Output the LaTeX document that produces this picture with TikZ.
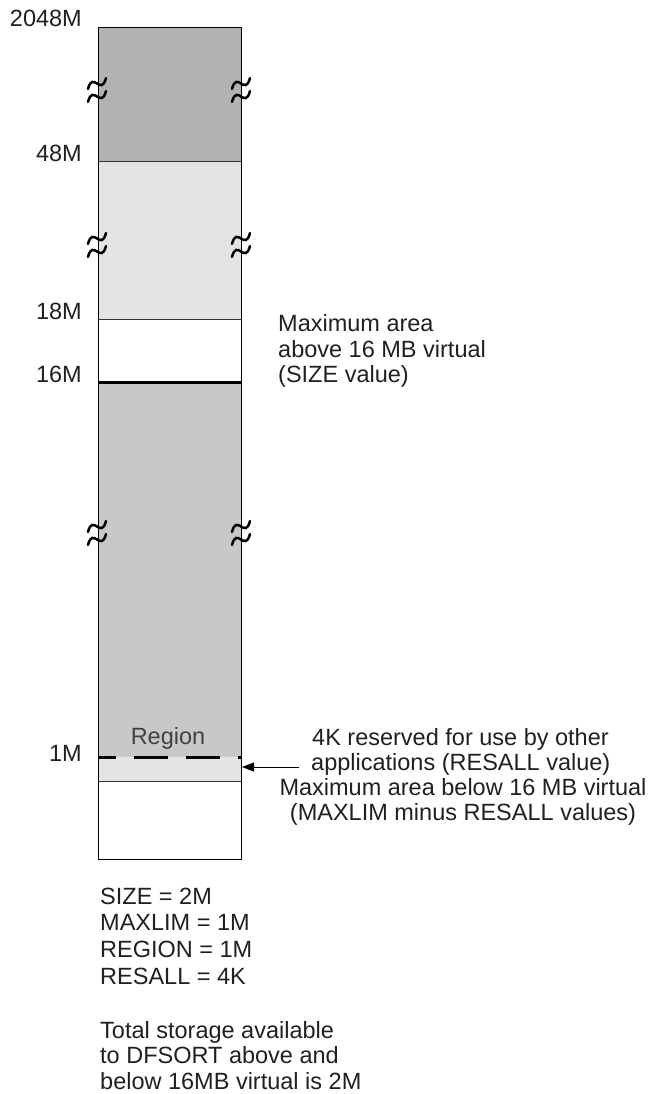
\documentclass[tikz,border=0pt]{standalone}
\usepackage{fontspec}
\setmainfont{Liberation Sans}
\usetikzlibrary{arrows.meta}
\definecolor{darkband}{HTML}{B1B2B1}
\definecolor{lightband}{HTML}{E4E4E4}
\definecolor{midband}{HTML}{C8C8CA}
\definecolor{txt}{HTML}{231F20}
\begin{document}
\begin{tikzpicture}[x=1pt,y=-1pt,
  lbl/.style={inner sep=0pt,text=txt,font=\fontsize{23.5}{25}\selectfont},
  sep/.style={draw=black!80,line width=0.8pt},
  brk/.style={line width=2.5pt,line cap=round},
]
\useasboundingbox (0,0) rectangle (653,1094);
% bands
\fill[darkband] (98,28) rectangle (241,161.5);
\fill[lightband] (98,161.5) rectangle (241,319);
\fill[white] (98,319) rectangle (241,382);
\fill[midband] (98,382) rectangle (241,757);
\fill[lightband] (98,757) rectangle (241,781);
\fill[white] (98,781) rectangle (241,859);
% separators
\draw[sep] (98,161.5) -- (241,161.5);
\draw[sep] (98,319) -- (241,319);
\draw[sep] (98,781) -- (241,781);
\draw[line width=3pt] (98,382) -- (241,382);
\draw[line width=3pt,dash pattern=on 34pt off 18pt,dash phase=16pt] (98,757) -- (241,757);
% outline
\draw[line width=1pt] (98,28) rectangle (241,859);
% break marks
\foreach \bx/\by in {97/90,241/90,97/245,241/245,97/533,241/533}{
  \draw[brk] (\bx-9,\by-1) .. controls (\bx-4,\by-20) and (\bx+4,\by+7) .. (\bx+9,\by-12);
  \draw[brk] (\bx-9,\by+12) .. controls (\bx-4,\by-7) and (\bx+4,\by+20) .. (\bx+9,\by+1);
}
% left labels
\node[lbl,anchor=base east] (l2048) at (82,27) {2048M};
\node[lbl,anchor=base east] (l48) at (82,162) {48M};
\node[lbl,anchor=base east] (l18) at (82,319) {18M};
\node[lbl,anchor=base east] (l16) at (82,382) {16M};
\node[lbl,anchor=base east] (l1) at (82,761) {1M};
\node[lbl,anchor=base,text=txt!85] (region) at (168,744) {Region};
% upper right text
\node[lbl,anchor=base west] (above1) at (278,331) {Maximum area};
\node[lbl,anchor=base west] (above2) at (278,357) {above 16 MB virtual};
\node[lbl,anchor=base west] (above3) at (278,382) {(SIZE value)};
% lower right text
\node[lbl,anchor=base west] (res1) at (312,745) {4K reserved for use by other};
\node[lbl,anchor=base west] (res2) at (311,770) {applications (RESALL value)};
\node[lbl,anchor=base] (below1) at (463,795) {Maximum area below 16 MB virtual};
\node[lbl,anchor=base] (below2) at (463,820) {(MAXLIM minus RESALL values)};
\coordinate (arrTail) at (299,767);
\coordinate (arrTip) at (242,767);
\draw[line width=0.9pt,-{Triangle[length=12pt,width=9pt]}] (arrTail) -- (arrTip);
% bottom text
\node[lbl,anchor=base west] (v1) at (100,904) {SIZE = 2M};
\node[lbl,anchor=base west] (v2) at (100,930) {MAXLIM = 1M};
\node[lbl,anchor=base west] (v3) at (100,957) {REGION = 1M};
\node[lbl,anchor=base west] (v4) at (100,984) {RESALL = 4K};
\node[lbl,anchor=base west] (t1) at (100,1038) {Total storage available};
\node[lbl,anchor=base west] (t2) at (100,1063) {to DFSORT above and};
\node[lbl,anchor=base west] (t3) at (100,1089) {below 16MB virtual is 2M};
\end{tikzpicture}
\end{document}
